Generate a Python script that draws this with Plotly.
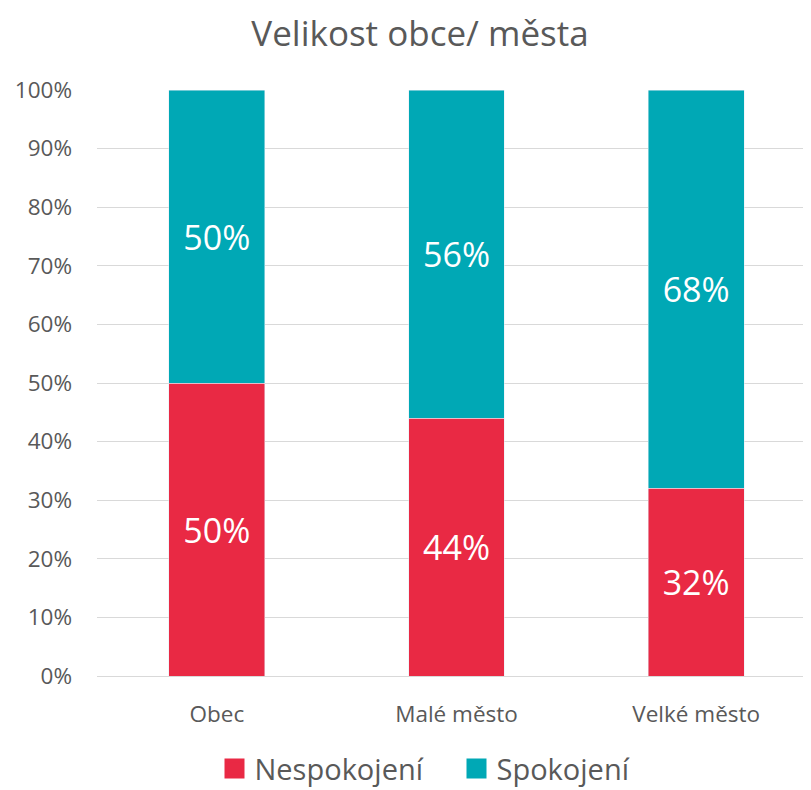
import plotly.graph_objects as go

categories = ["Obec", "Malé město", "Velké město"]
nespokojeni = [50, 44, 32]
spokojeni = [50, 56, 68]
y_ticks = [0, 10, 20, 30, 40, 50, 60, 70, 80, 90, 100]
y_tick_labels = [f"{v}%" for v in y_ticks]

RED = "#E92944"
TEAL = "#00A8B5"
GRAY = "#595959"
FONT = "Open Sans"

fig = go.Figure()
for name, vals, color in [("Nespokojení", nespokojeni, RED), ("Spokojení", spokojeni, TEAL)]:
    fig.add_trace(go.Bar(
        name=name, x=categories, y=vals,
        marker_color=color, width=0.4, showlegend=False,
        text=[f"{v}%" for v in vals], textposition="inside",
        insidetextanchor="middle",
        textfont=dict(color="white", size=34, family=FONT),
    ))
# legend-only entries with larger square swatches
for name, color in [("Nespokojení", RED), ("Spokojení", TEAL)]:
    fig.add_trace(go.Scatter(
        name=name, x=[None], y=[None], mode="markers",
        marker=dict(symbol="square", size=16, color=color,
                    line=dict(width=4, color=color)),
        showlegend=True, hoverinfo="skip",
    ))

fig.update_layout(
    barmode="stack",
    width=811, height=790,
    margin=dict(l=89, r=3, t=82, b=122, autoexpand=False),
    paper_bgcolor="white", plot_bgcolor="white",
    font=dict(family=FONT, color=GRAY),
    title=dict(text="Velikost obce/ města", x=0.508, xanchor="center",
               y=0.968, yanchor="middle",
               font=dict(size=35, color=GRAY, family=FONT)),
    legend=dict(orientation="h", x=0.50, xanchor="center", y=-0.158,
                yanchor="middle", font=dict(size=29, color=GRAY, family=FONT),
                itemwidth=30, traceorder="normal",
                entrywidth=197, entrywidthmode="pixels"),
    uniformtext=dict(minsize=10, mode="show"),
)
fig.update_xaxes(
    showgrid=False, showline=False, ticks="",
    tickfont=dict(size=22.5, color=GRAY, family=FONT),
    ticklabelstandoff=22,
)
fig.update_yaxes(
    range=[0, 100], tickvals=y_ticks, ticktext=y_tick_labels,
    showgrid=True, gridcolor="#D9D9D9", gridwidth=1.3,
    zeroline=True, zerolinecolor="#D9D9D9", zerolinewidth=1.3,
    tickfont=dict(size=22.5, color=GRAY, family=FONT),
    ticklabelstandoff=24,
)

fig.write_html("out.html")
